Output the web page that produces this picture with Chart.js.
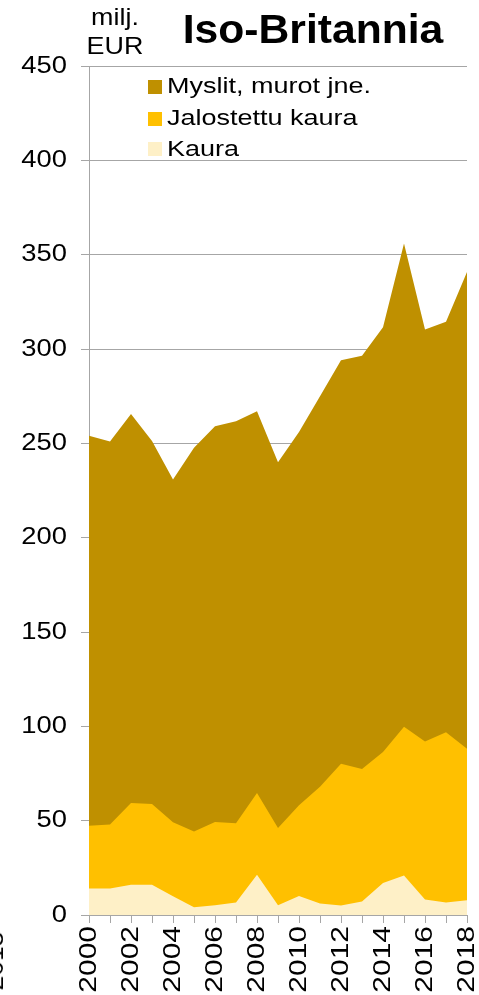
<!DOCTYPE html>
<html>
<head>
<meta charset="utf-8">
<script src="https://cdn.jsdelivr.net/npm/chart.js@4"></script>
<style>
  html, body { margin: 0; padding: 0; background: #fff; }
  #wrap { position: relative; width: 479px; height: 995px; overflow: hidden; font-family: "Liberation Sans", Arial, sans-serif; color: #000; }
  #c { position: absolute; left: 0; top: 0; }
  .t { position: absolute; white-space: nowrap; line-height: 1; }
  #title { font-weight: bold; font-size: 41px; left: 313px; top: 9.3px; transform: translateX(-50%) scaleX(1.04); }
  .unit { font-size: 24px; left: 115px; transform: translateX(-50%) scaleX(1.12); }
  #frag { font-size: 24px; width: 54px; height: 24px; text-align: center; left: -32px; top: 949px; transform-origin: 50% 50%; transform: rotate(-90deg) scaleX(1.1); }
  #legend .row { position: absolute; left: 148px; height: 31px; }
  #legend .box { position: absolute; left: 0; width: 14px; height: 14px; }
  #legend .lab { position: absolute; left: 18.5px; font-size: 22.5px; line-height: 1; white-space: nowrap; transform-origin: 0 0; transform: scaleX(1.2); }
</style>
</head>
<body>
<div id="wrap">
  <canvas id="c" width="479" height="995"></canvas>
  <div class="t unit" style="top:4.7px">milj.</div>
  <div class="t unit" style="top:34px">EUR</div>
  <div class="t" id="title">Iso-Britannia</div>
  <div class="t" id="frag">2018</div>
  <div id="legend"></div>
</div>
<script>
// ---- data ----
const years = ['2000','2001','2002','2003','2004','2005','2006','2007','2008','2009',
               '2010','2011','2012','2013','2014','2015','2016','2017','2018'];
const kaura      = [14, 14, 16, 16, 10, 4.1, 5.2, 6.6, 21.3, 5.2, 10.1, 6.1, 5, 7.1, 17, 21, 8.2, 6.6, 7.8];
const jalostettu = [33.3, 34, 43.4, 42.9, 39.1, 40.2, 44.1, 42, 43.3, 40.9, 48.1, 61.9, 75.2, 70.3, 69.4, 78.8, 83.7, 90.3, 80.3];
const myslit     = [206.7, 203, 206.2, 192.3, 181.7, 203.4, 209.7, 213.1, 202.4, 193.9, 197.8, 207, 213.8, 219, 225.1, 256.1, 218.4, 217.5, 252.7];
const seriesNames = ['Kaura', 'Jalostettu kaura', 'Myslit, murot jne.'];
const seriesColors = ['#FEF0C7', '#FFC000', '#BF9000'];
const yMin = 0, yMax = 450, yStep = 50;

const GRID = '#A6A6A6';
const FONT = '"Liberation Sans", Arial, sans-serif';

// horizontally widened text, as in the reference rendering
const canvas = document.getElementById('c');
const ctx = canvas.getContext('2d');
const origFill = ctx.fillText.bind(ctx);
ctx.fillText = function (text, x, y, maxWidth) {
  const m = ctx.getTransform();
  const rotated = Math.abs(m.b) > 1e-6;
  const sx = rotated ? 1.25 : 1.14;
  ctx.save();
  ctx.translate(x, y);
  ctx.scale(sx, 1);
  if (maxWidth === undefined) origFill(text, 0, 0); else origFill(text, 0, 0, maxWidth);
  ctx.restore();
};

const seriesData = [kaura, jalostettu, myslit];
const datasets = seriesData.map((d, i) => ({
  label: seriesNames[i],
  data: d,
  backgroundColor: seriesColors[i],
  borderColor: seriesColors[i],
  borderWidth: 0,
  pointRadius: 0,
  pointHoverRadius: 0,
  tension: 0,
  fill: 'origin'
}));

new Chart(ctx, {
  type: 'line',
  data: { labels: years, datasets },
  options: {
    responsive: false,
    animation: false,
    events: [],
    layout: { padding: { left: 0, right: 12, top: 66, bottom: 0 } },
    plugins: { legend: { display: false }, tooltip: { enabled: false }, title: { display: false } },
    scales: {
      x: {
        type: 'category',
        offset: false,
        grid: { drawOnChartArea: false, drawTicks: true, tickLength: 8, color: GRID, lineWidth: 1 },
        border: { display: true, color: GRID, width: 1 },
        ticks: {
          autoSkip: false, maxRotation: 90, minRotation: 90, padding: 3,
          color: '#000', font: { family: FONT, size: 24 },
          callback: function (v, i) { return i % 2 === 0 ? years[i] : ''; }
        },
        afterFit: (s) => { s.height = 80; s.paddingLeft = 0; s.paddingRight = 0; }
      },
      y: {
        stacked: true,
        min: yMin, max: yMax,
        grid: { color: GRID, lineWidth: 1, tickLength: 8, drawTicks: true },
        border: { display: true, color: GRID, width: 1 },
        ticks: { stepSize: yStep, padding: 14, color: '#000', font: { family: FONT, size: 24 } },
        afterFit: (s) => { s.width = 89; s.paddingTop = 0; s.paddingBottom = 0; }
      }
    }
  }
});

// legend (reverse order, top series first)
const legend = document.getElementById('legend');
const rowsTop = [80, 111.7, 142.3];
[2, 1, 0].forEach((si, r) => {
  const row = document.createElement('div');
  row.className = 'row';
  row.style.top = rowsTop[r] + 'px';
  const box = document.createElement('div');
  box.className = 'box';
  box.style.background = seriesColors[si];
  const lab = document.createElement('div');
  lab.className = 'lab';
  lab.style.top = (14.3 - 0.8465 * 22.5) + 'px';
  lab.textContent = seriesNames[si];
  row.appendChild(box); row.appendChild(lab);
  legend.appendChild(row);
});
</script>
</body>
</html>
